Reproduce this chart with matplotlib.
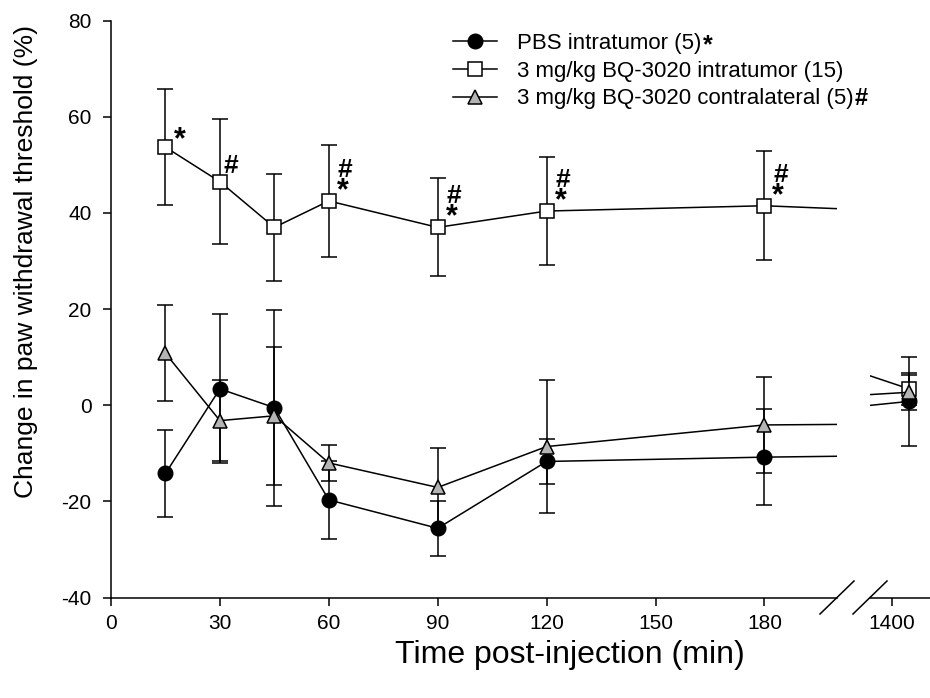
import matplotlib
matplotlib.use('Agg')
import matplotlib.pyplot as plt
from matplotlib.lines import Line2D

plt.rcParams['font.family'] = ['Liberation Sans', 'DejaVu Sans']
plt.rcParams['axes.unicode_minus'] = False

# data (min post-injection, % change, SEM)
times = [15, 30, 45, 60, 90, 120, 180, 1440]
pbs_mean = [-14.2, 3.4, -0.5, -19.7, -25.6, -11.7, -10.8, 0.8]
pbs_sem = [9.0, 15.5, 20.4, 8.1, 5.7, 4.6, 10.0, 9.3]
bq_mean = [53.7, 46.5, 37.0, 42.5, 37.0, 40.4, 41.5, 3.4]
bq_sem = [12.0, 13.0, 11.2, 11.6, 10.2, 11.2, 11.3, 3.4]
contra_mean = [10.8, -3.2, -2.2, -12.0, -17.1, -8.6, -4.1, 2.7]
contra_sem = [10.0, 8.5, 14.4, 3.7, 8.3, 13.8, 10.0, 3.6]
labels = ['PBS intratumor (5)', '3 mg/kg BQ-3020 intratumor (15)',
          '3 mg/kg BQ-3020 contralateral (5)']
label_marks = ['*', '', '#']
star_times = [15, 60, 90, 120, 180]
hash_times = [30, 60, 90, 120, 180]
xticks_left = [0, 30, 60, 90, 120, 150, 180]
xticks_right = [1400]
yticks = [-40, -20, 0, 20, 40, 60, 80]

W, H = 930, 698
top, bot = 20.7, 597.5
fig = plt.figure(figsize=(W/100, H/100), dpi=100)
ax = fig.add_axes([111/W, 1-bot/H, (837-111)/W, (bot-top)/H])
ax2 = fig.add_axes([870/W, 1-bot/H, (930-870)/W, (bot-top)/H], sharey=ax)

styles = [
    dict(marker='o', mfc='black', mec='black', ms=10.5),
    dict(marker='s', mfc='white', mec='black', ms=9.5, mew=1.1),
    dict(marker='^', mfc='#b4b4b4', mec='black', ms=10.5, mew=1.1),
]
series = [(pbs_mean, pbs_sem), (bq_mean, bq_sem), (contra_mean, contra_sem)]
order = [1, 2, 0]
handles = {}
for a in (ax, ax2):
    for i in order:
        m, s = series[i]
        eb = a.errorbar(times, m, yerr=s, color='black', lw=1.1, capsize=6,
                        capthick=1.1, elinewidth=1.1, zorder=3 + i, **styles[i])
        handles[i] = eb[0]
handles = [handles[i] for i in range(3)]

ax.set_xlim(0, 200)
ax2.set_xlim(1350, 1488)
ax.set_ylim(-40, 80)
ax.set_yticks(yticks)
ax.set_xticks(xticks_left)
ax2.set_xticks(xticks_right)

for a in (ax, ax2):
    a.spines['top'].set_visible(False)
    a.spines['right'].set_visible(False)
    a.spines['bottom'].set_linewidth(1.1)
    a.tick_params(direction='out', length=6, width=1.1, colors='black',
                  labelsize=15)
    a.tick_params(axis='x', pad=6)
ax.tick_params(axis='y', pad=8)
ax.spines['left'].set_linewidth(1.1)
ax2.spines['left'].set_visible(False)
ax2.tick_params(axis='y', left=False, labelleft=False)

ax.set_ylabel('Change in paw withdrawal threshold (%)', fontsize=19)
ax.yaxis.set_label_coords(-0.1, 0.583)
fig.text(570/W, 1-655/H, 'Time post-injection (min)', fontsize=23,
         ha='center', va='center')

# axis break marks
for x0 in (820, 853):
    fig.add_artist(Line2D([x0/W, (x0+34)/W], [1-614/H, 1-581/H],
                          color='black', lw=1.1))

# significance marks next to the BQ-3020 intratumor points
bq = dict(zip(times, bq_mean))
for t in star_times:
    dx, dy = (8, 2) if t in hash_times else (8, -1)
    ax.annotate('*', (t, bq[t]), xytext=(dx, dy), textcoords='offset pixels',
                fontsize=22, fontweight='bold', ha='left', va='baseline')
for t in hash_times:
    dx, dy = (9, 24) if t in star_times else (4, 8.5)
    ax.annotate('#', (t, bq[t]), xytext=(dx, dy), textcoords='offset pixels',
                fontsize=19, fontweight='bold', ha='left', va='baseline')

leg = fig.legend(handles, labels, loc='upper left',
                 bbox_to_anchor=(453/W, 1-33/H), frameon=False, fontsize=16,
                 borderpad=0, borderaxespad=0, handlelength=2.0,
                 handletextpad=0.9, labelspacing=0.3)

fig.canvas.draw()
for txt, mark in zip(leg.get_texts(), label_marks):
    if not mark:
        continue
    bb = txt.get_window_extent()
    if mark == '*':
        fig.text((bb.x1 + 1)/W, (bb.y0 + 2)/H, mark, fontsize=18,
                 fontweight='bold', ha='left', va='baseline')
    else:
        fig.text((bb.x1 + 1)/W, (bb.y0 + 4)/H, mark, fontsize=17,
                 fontweight='bold', ha='left', va='baseline')

fig.savefig('out.png', dpi=100)
